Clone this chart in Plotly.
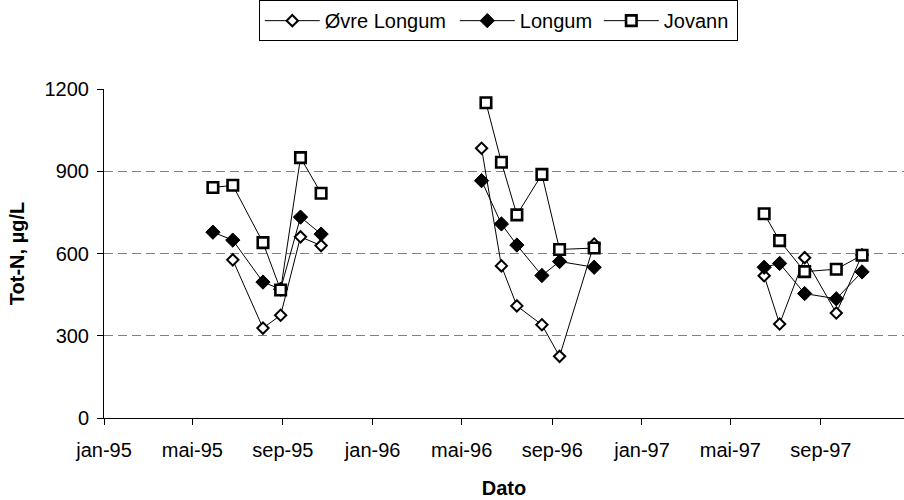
import plotly.graph_objects as go

# ---- data ----
ovre_dates = ["1995-06-25", "1995-08-05", "1995-08-29", "1995-09-25", "1995-10-23", None,
              "1996-05-28", "1996-06-24", "1996-07-15", "1996-08-18", "1996-09-11", "1996-10-28", None,
              "1997-06-16", "1997-07-07", "1997-08-10", "1997-09-22", "1997-10-27"]
ovre_values = [577, 328, 375, 661, 629, None,
               984, 555, 409, 340, 225, 635, None,
               519, 343, 585, 383, 595]

longum_dates = ["1995-05-29", "1995-06-25", "1995-08-05", "1995-08-29", "1995-09-25", "1995-10-23", None,
                "1996-05-28", "1996-06-24", "1996-07-15", "1996-08-18", "1996-09-11", "1996-10-28", None,
                "1997-06-16", "1997-07-07", "1997-08-10", "1997-09-22", "1997-10-27"]
longum_values = [678, 649, 496, 470, 733, 671, None,
                 866, 708, 631, 520, 571, 550, None,
                 550, 564, 454, 435, 533]

jovann_dates = ["1995-05-29", "1995-06-25", "1995-08-05", "1995-08-29", "1995-09-25", "1995-10-23", None,
                "1996-06-03", "1996-06-24", "1996-07-15", "1996-08-18", "1996-09-11", "1996-10-28", None,
                "1997-06-16", "1997-07-07", "1997-08-10", "1997-09-22", "1997-10-27"]
jovann_values = [841, 849, 640, 467, 950, 820, None,
                 1150, 933, 741, 889, 615, 620, None,
                 745, 647, 534, 543, 594]

tick_dates = ["1995-01-01", "1995-05-01", "1995-09-01", "1996-01-01", "1996-05-01",
              "1996-09-01", "1997-01-01", "1997-05-01", "1997-09-01"]
tick_labels = ["jan-95", "mai-95", "sep-95", "jan-96", "mai-96", "sep-96", "jan-97", "mai-97", "sep-97"]
y_ticks = [0, 300, 600, 900, 1200]

x_range = ["1995-01-01", "1997-12-23"]
y_range = [0, 1200.4]

FONT = "Liberation Sans, Arial, sans-serif"
FS = 20

fig = go.Figure()
fig.add_trace(go.Scatter(
    x=ovre_dates, y=ovre_values, name="Øvre Longum", mode="lines+markers",
    line=dict(color="black", width=1),
    marker=dict(symbol="diamond", size=8.7, color="white", line=dict(color="black", width=2)),
    connectgaps=False, legendwidth=125))
fig.add_trace(go.Scatter(
    x=longum_dates, y=longum_values, name="Longum", mode="lines+markers",
    line=dict(color="black", width=1),
    marker=dict(symbol="diamond", size=11, color="black", line=dict(color="black", width=1)),
    connectgaps=False, legendwidth=74))
fig.add_trace(go.Scatter(
    x=jovann_dates, y=jovann_values, name="Jovann", mode="lines+markers",
    line=dict(color="black", width=1),
    marker=dict(symbol="square", size=10.5, color="white", line=dict(color="black", width=2.6)),
    connectgaps=False, legendwidth=68))

fig.update_layout(
    width=904, height=500,
    margin=dict(l=104, r=0, t=89, b=82, autoexpand=False),
    paper_bgcolor="white", plot_bgcolor="white",
    font=dict(family=FONT, size=FS, color="black"),
    showlegend=True,
    legend=dict(
        orientation="h", x=0.1935, xanchor="left", y=1.27, yanchor="top",
        bordercolor="black", borderwidth=1, bgcolor="white",
        font=dict(family=FONT, size=FS, color="black"),
        itemwidth=55,
    ),
    xaxis=dict(
        type="date", range=x_range, automargin=False,
        tickmode="array", tickvals=tick_dates, ticktext=tick_labels,
        ticks="outside", ticklen=6, tickcolor="black", tickwidth=1,
        showline=True, linecolor="black", linewidth=1,
        showgrid=False, zeroline=False,
        ticklabelstandoff=8,
        tickfont=dict(family=FONT, size=FS),
        title=dict(text="Dato", font=dict(family=FONT, size=FS, weight="bold"), standoff=20),
    ),
    yaxis=dict(
        range=y_range, tickmode="array", tickvals=y_ticks, automargin=False,
        ticks="outside", ticklen=6, tickcolor="black", tickwidth=1,
        showline=True, linecolor="black", linewidth=1,
        showgrid=True, gridcolor="#808080", gridwidth=1, griddash="9px,5px",
        zeroline=False,
        ticklabelstandoff=4,
        tickfont=dict(family=FONT, size=FS),
        title=dict(text="Tot-N, µg/L", font=dict(family=FONT, size=FS, weight="bold"), standoff=14.5),
    ),
    xaxis2=dict(
        type="date", range=x_range, overlaying="x", anchor="y", side="bottom",
        tickmode="array", tickvals=tick_dates,
        ticks="inside", ticklen=6, tickcolor="black", tickwidth=1,
        showticklabels=False, showgrid=False, zeroline=False, showline=False,
    ),
    yaxis2=dict(
        range=y_range, overlaying="y", anchor="x", side="left",
        tickmode="array", tickvals=y_ticks,
        ticks="inside", ticklen=6, tickcolor="black", tickwidth=1,
        showticklabels=False, showgrid=False, zeroline=False, showline=False,
    ),
)

fig.write_html("out.html", config={"displayModeBar": False},
               post_script="document.body.style.margin='0';document.body.style.padding='0';")
